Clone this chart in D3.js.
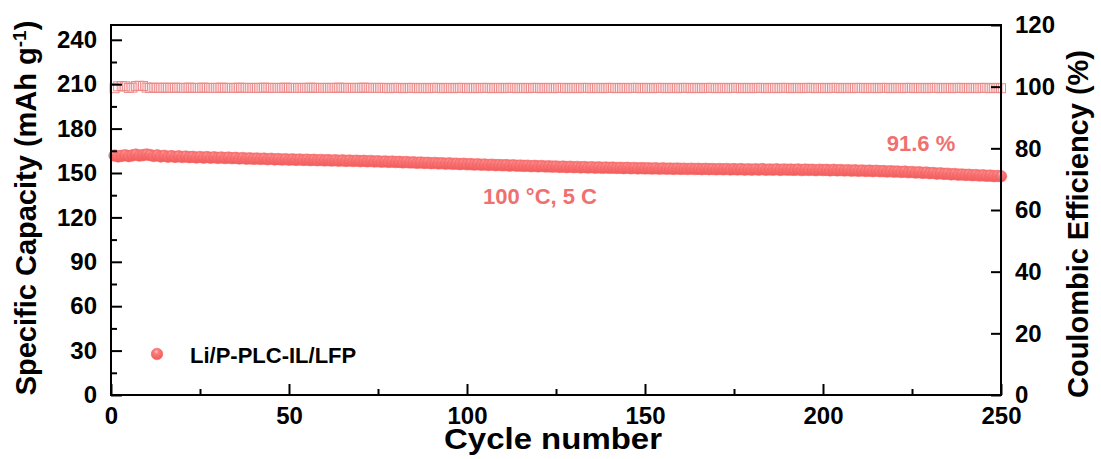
<!DOCTYPE html>
<html>
<head>
<meta charset="utf-8">
<script src="https://cdn.jsdelivr.net/npm/d3@7"></script>
<style>
  html, body { margin: 0; padding: 0; background: #fff; }
  svg { display: block; }
  text { font-family: "Liberation Sans", Arial, sans-serif; font-weight: bold; }
</style>
</head>
<body>
<svg id="chart" width="1101" height="459"></svg>
<script>
// Cycle-by-cycle discharge capacity (mAh g^-1), cycles 1..250
const capacity = [
  161.8, 161.2, 161.6, 162.0, 161.4, 161.9, 162.4, 161.8, 162.1, 162.5,
  162.1, 161.5, 161.9, 161.2, 161.6, 161.0, 161.4, 160.9, 161.3, 160.8,
  161.1, 160.7, 160.9, 160.5, 160.8, 160.4, 160.7, 160.3, 160.6, 160.2,
  160.5, 160.1, 160.4, 160.0, 160.2, 159.8, 160.1, 159.7, 159.9, 159.6,
  159.8, 159.5, 159.7, 159.3, 159.6, 159.2, 159.4, 159.1, 159.3, 159.0,
  159.2, 158.9, 159.1, 158.8, 159.0, 158.7, 158.9, 158.6, 158.8, 158.5,
  158.7, 158.4, 158.6, 158.3, 158.5, 158.2, 158.4, 158.1, 158.3, 158.0,
  158.2, 157.9, 158.1, 157.8, 157.9, 157.6, 157.8, 157.5, 157.7, 157.4,
  157.5, 157.2, 157.4, 157.1, 157.2, 156.9, 157.1, 156.8, 156.9, 156.6,
  156.8, 156.5, 156.6, 156.3, 156.5, 156.2, 156.3, 156.0, 156.2, 155.9,
  156.0, 155.7, 155.9, 155.6, 155.7, 155.4, 155.6, 155.3, 155.4, 155.2,
  155.3, 155.0, 155.2, 154.9, 155.0, 154.8, 154.9, 154.6, 154.8, 154.5,
  154.7, 154.4, 154.5, 154.3, 154.4, 154.1, 154.3, 154.0, 154.2, 153.9,
  154.1, 153.8, 154.0, 153.7, 153.9, 153.6, 153.8, 153.5, 153.7, 153.5,
  153.6, 153.4, 153.5, 153.3, 153.5, 153.2, 153.4, 153.1, 153.3, 153.1,
  153.2, 153.0, 153.2, 152.9, 153.1, 152.9, 153.0, 152.8, 153.0, 152.8,
  152.9, 152.7, 152.9, 152.7, 152.8, 152.6, 152.8, 152.6, 152.7, 152.5,
  152.7, 152.5, 152.7, 152.4, 152.6, 152.4, 152.6, 152.3, 152.5, 152.3,
  152.5, 152.3, 152.6, 152.2, 152.4, 152.2, 152.5, 152.1, 152.4, 152.2,
  152.3, 152.1, 152.4, 152.0, 152.3, 152.1, 152.2, 151.9, 152.2, 152.0,
  152.1, 151.8, 152.1, 151.8, 152.0, 151.7, 151.9, 151.6, 151.8, 151.5,
  151.7, 151.4, 151.6, 151.3, 151.5, 151.2, 151.3, 151.0, 151.2, 150.9,
  151.0, 150.7, 150.9, 150.5, 150.7, 150.3, 150.5, 150.1, 150.3, 149.9,
  150.0, 149.6, 149.8, 149.4, 149.5, 149.1, 149.3, 148.9, 149.0, 148.7,
  148.8, 148.5, 148.6, 148.3, 148.4, 148.1, 148.2, 147.9, 148.0, 147.8
];

// Coulombic efficiency (%), cycles 1..250
const efficiency = [
  99.5, 100.1, 100.2, 100.1, 99.6, 99.7, 100.2, 100.3, 100.2, 99.7,
  99.6, 99.7, 99.6, 99.6, 99.7, 99.6, 99.6, 99.7, 99.6, 99.6,
  99.6, 99.7, 99.6, 99.6, 99.6, 99.7, 99.6, 99.6, 99.6, 99.6,
  99.7, 99.6, 99.6, 99.6, 99.6, 99.7, 99.6, 99.6, 99.6, 99.6,
  99.6, 99.6, 99.7, 99.6, 99.6, 99.6, 99.6, 99.6, 99.7, 99.6,
  99.6, 99.6, 99.6, 99.6, 99.6, 99.7, 99.6, 99.6, 99.6, 99.6,
  99.6, 99.6, 99.6, 99.7, 99.6, 99.6, 99.6, 99.6, 99.6, 99.6,
  99.7, 99.6, 99.6, 99.6, 99.6, 99.6, 99.6, 99.5, 99.6, 99.6,
  99.6, 99.5, 99.6, 99.6, 99.6, 99.5, 99.6, 99.6, 99.5, 99.6,
  99.6, 99.6, 99.5, 99.6, 99.6, 99.5, 99.6, 99.6, 99.6, 99.5,
  99.6, 99.6, 99.5, 99.6, 99.6, 99.6, 99.5, 99.6, 99.6, 99.5,
  99.6, 99.6, 99.6, 99.5, 99.6, 99.6, 99.5, 99.6, 99.6, 99.6,
  99.5, 99.6, 99.6, 99.5, 99.6, 99.6, 99.6, 99.5, 99.6, 99.6,
  99.5, 99.6, 99.6, 99.6, 99.5, 99.6, 99.6, 99.5, 99.6, 99.6,
  99.6, 99.5, 99.6, 99.6, 99.5, 99.6, 99.6, 99.6, 99.5, 99.6,
  99.6, 99.5, 99.6, 99.6, 99.6, 99.5, 99.6, 99.6, 99.5, 99.6,
  99.6, 99.6, 99.5, 99.6, 99.6, 99.5, 99.6, 99.6, 99.6, 99.5,
  99.6, 99.6, 99.5, 99.6, 99.6, 99.6, 99.5, 99.6, 99.6, 99.5,
  99.6, 99.6, 99.6, 99.5, 99.6, 99.6, 99.5, 99.6, 99.6, 99.6,
  99.5, 99.6, 99.6, 99.5, 99.6, 99.6, 99.6, 99.5, 99.6, 99.6,
  99.5, 99.6, 99.6, 99.6, 99.5, 99.6, 99.6, 99.5, 99.6, 99.6,
  99.6, 99.5, 99.6, 99.6, 99.5, 99.6, 99.6, 99.6, 99.5, 99.6,
  99.6, 99.5, 99.6, 99.6, 99.6, 99.5, 99.6, 99.6, 99.5, 99.6,
  99.6, 99.6, 99.5, 99.6, 99.6, 99.5, 99.6, 99.6, 99.6, 99.5,
  99.6, 99.6, 99.5, 99.6, 99.6, 99.6, 99.5, 99.6, 99.6, 99.5
];

const cycles = d3.range(1, capacity.length + 1);

// Axis ticks
const xMajorTicks = [0, 50, 100, 150, 200, 250];
const xMinorTicks = [25, 75, 125, 175, 225];
const capMajorTicks = [0, 30, 60, 90, 120, 150, 180, 210, 240];
const capMinorTicks = [15, 45, 75, 105, 135, 165, 195, 225];
const ceMajorTicks = [0, 20, 40, 60, 80, 100, 120];

const seriesName = "Li/P-PLC-IL/LFP";
const conditionLabel = "100 \u00B0C, 5 C";
const retentionLabel = "91.6 %";

const plot = { left: 111, right: 1001, top: 25, bottom: 395 };
const markColor = "#f66464";

const svg = d3.select("#chart");

const x = d3.scaleLinear().domain([0, 250]).range([plot.left, plot.right]);
const yCap = d3.scaleLinear().domain([0, 250]).range([plot.bottom, plot.top]);
const yCE = d3.scaleLinear().domain([0, 120]).range([plot.bottom, plot.top]);

// Shaded sphere look for the capacity markers
const defs = svg.append("defs");
const grad = defs.append("radialGradient")
  .attr("id", "ball").attr("cx", "45%").attr("cy", "30%").attr("r", "65%");
grad.append("stop").attr("offset", "0%").attr("stop-color", "#ffcaca");
grad.append("stop").attr("offset", "30%").attr("stop-color", "#fa7c7c");
grad.append("stop").attr("offset", "100%").attr("stop-color", "#f25c5c");

// Coulombic efficiency: open squares
const sq = 9;
svg.append("g")
  .selectAll("rect")
  .data(cycles)
  .join("rect")
  .attr("x", d => x(d) - sq / 2)
  .attr("y", (d, i) => yCE(efficiency[i]) - sq / 2)
  .attr("width", sq)
  .attr("height", sq)
  .attr("fill", "none")
  .attr("stroke", "#ec8a8a")
  .attr("stroke-width", 1);

// Specific capacity: filled circles
svg.append("g")
  .selectAll("circle")
  .data(cycles)
  .join("circle")
  .attr("cx", d => x(d))
  .attr("cy", (d, i) => yCap(capacity[i]))
  .attr("r", 5.8)
  .attr("fill", "url(#ball)")
  .attr("stroke", markColor)
  .attr("stroke-width", 0.6);

// Axes (inward ticks)
function styleAxis(g, fontSize) {
  g.select(".domain").remove();
  g.selectAll("line").attr("stroke", "#000").attr("stroke-width", 2);
  g.selectAll("text").attr("fill", "#000")
    .style("font-size", fontSize + "px")
    .style("font-family", '"Liberation Sans", Arial, sans-serif')
    .style("font-weight", "bold");
}

svg.append("g")
  .attr("transform", `translate(0,${plot.bottom})`)
  .call(d3.axisBottom(x).tickValues(xMajorTicks).tickSize(-11).tickPadding(12).tickFormat(d3.format("d")))
  .call(g => styleAxis(g, 24));
svg.append("g")
  .attr("transform", `translate(0,${plot.bottom})`)
  .call(d3.axisBottom(x).tickValues(xMinorTicks).tickSize(-6).tickFormat(""))
  .call(g => styleAxis(g, 24));

svg.append("g")
  .attr("transform", `translate(${plot.left},0)`)
  .call(d3.axisLeft(yCap).tickValues(capMajorTicks).tickSize(-11).tickPadding(14).tickFormat(d3.format("d")))
  .call(g => styleAxis(g, 24));
svg.append("g")
  .attr("transform", `translate(${plot.left},0)`)
  .call(d3.axisLeft(yCap).tickValues(capMinorTicks).tickSize(-6).tickFormat(""))
  .call(g => styleAxis(g, 24));

svg.append("g")
  .attr("transform", `translate(${plot.right},0)`)
  .call(d3.axisRight(yCE).tickValues(ceMajorTicks).tickSize(-10).tickPadding(14).tickFormat(d3.format("d")))
  .call(g => styleAxis(g, 24));

// Frame
svg.append("rect")
  .attr("x", plot.left).attr("y", plot.top)
  .attr("width", plot.right - plot.left).attr("height", plot.bottom - plot.top)
  .attr("fill", "none").attr("stroke", "#000").attr("stroke-width", 2);

// Axis titles
const leftTitle = svg.append("text")
  .attr("transform", "translate(36,208) rotate(-90)")
  .attr("text-anchor", "middle")
  .style("font-size", "29px")
  .attr("fill", "#000");
leftTitle.append("tspan").text("Specific Capacity (mAh g");
leftTitle.append("tspan").attr("baseline-shift", "super").style("font-size", "19px").text("-1");
leftTitle.append("tspan").text(")");

svg.append("text")
  .attr("transform", "translate(1088,224) rotate(-90)")
  .attr("text-anchor", "middle")
  .style("font-size", "29px")
  .attr("fill", "#000")
  .text("Coulombic Efficiency (%)");

svg.append("text")
  .attr("x", 553).attr("y", 449)
  .attr("text-anchor", "middle")
  .attr("textLength", 218)
  .attr("lengthAdjust", "spacingAndGlyphs")
  .style("font-size", "30px")
  .attr("fill", "#000")
  .text("Cycle number");

// Annotations
svg.append("text")
  .attr("x", 540).attr("y", 204)
  .attr("text-anchor", "middle")
  .style("font-size", "22px")
  .attr("fill", "#f07070")
  .text(conditionLabel);

svg.append("text")
  .attr("x", 921).attr("y", 151)
  .attr("text-anchor", "middle")
  .style("font-size", "22px")
  .attr("fill", "#f07070")
  .text(retentionLabel);

// Legend
svg.append("circle")
  .attr("cx", 157).attr("cy", 354).attr("r", 5.8)
  .attr("fill", "url(#ball)").attr("stroke", markColor).attr("stroke-width", 0.6);
svg.append("text")
  .attr("x", 190).attr("y", 363)
  .style("font-size", "22px")
  .attr("fill", "#000")
  .text(seriesName);
</script>
</body>
</html>
